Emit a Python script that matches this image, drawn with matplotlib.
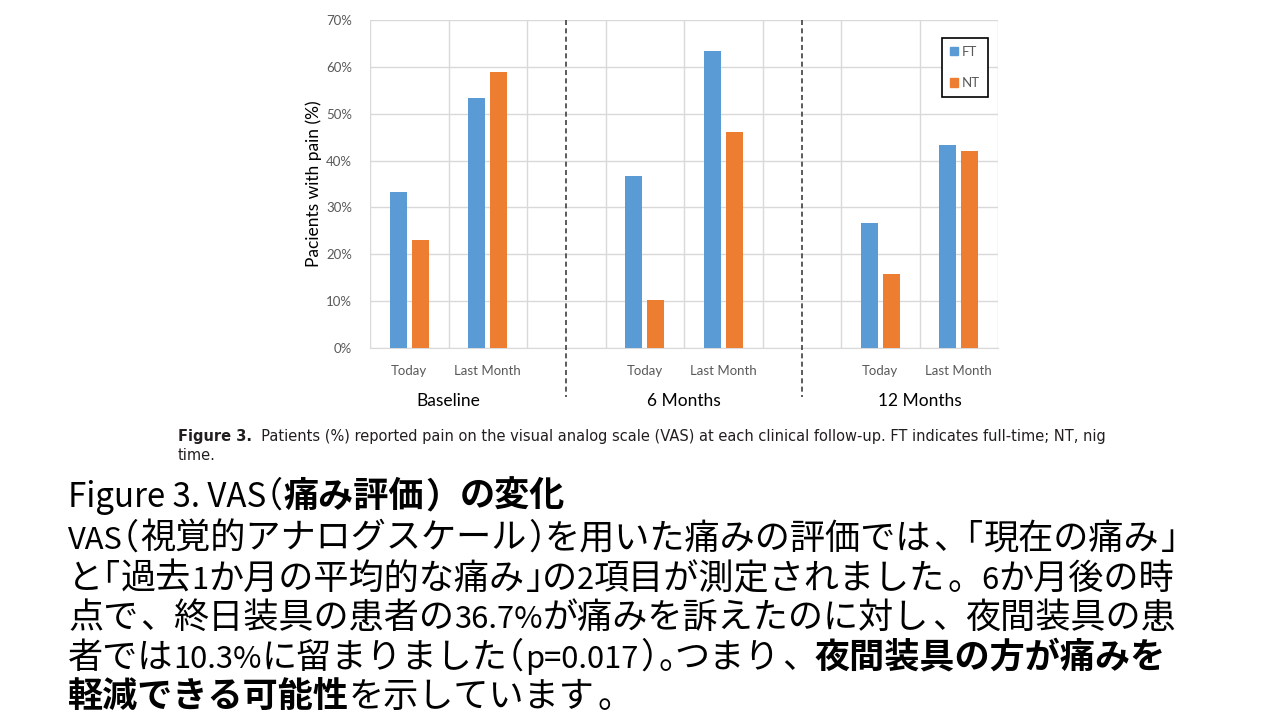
import numpy as np
import matplotlib
matplotlib.use("Agg")
import matplotlib.pyplot as plt
from matplotlib.patches import Patch
from matplotlib.font_manager import FontProperties, findfont, get_font

# data
groups = ['Baseline', '6 Months', '12 Months']
periods = ['Today', 'Last Month']
ft = [33.3, 53.3, 36.7, 63.3, 26.7, 43.3]
nt = [23.1, 59.0, 10.3, 46.2, 15.8, 42.1]
yticks = [0, 10, 20, 30, 40, 50, 60, 70]

caption_bold = 'Figure 3.'
caption_rest = ('  Patients (%) reported pain on the visual analog scale (VAS) at each clinical '
                'follow-up. FT indicates full-time; NT, nig')
caption_line2 = 'time.'

jp_lines = [
    [('Figure 3. VAS（', False), ('痛み評価）の変化', True)],
    [('VAS（視覚的アナログスケール）を用いた痛みの評価では、「現在の痛み」', False)],
    [('と「過去1か月の平均的な痛み」の2項目が測定されました。6か月後の時', False)],
    [('点で、終日装具の患者の36.7%が痛みを訴えたのに対し、夜間装具の患', False)],
    [('者では10.3%に留まりました（p=0.017）。つまり、', False), ('夜間装具の方が痛みを', True)],
    [('軽減できる可能性', True), ('を示しています。', False)],
]

FT_C = '#5B9BD5'
NT_C = '#ED7D31'
GRID = '#D9D9D9'
chart_font = ['Lato', 'DejaVu Sans']
jp_font = ['Noto Sans CJK JP', 'DejaVu Sans']
JP_SIZE = 25.3
DPI = 100

fig = plt.figure(figsize=(12.8, 7.2), dpi=DPI)
ax = fig.add_axes([370 / 1280, 1 - 348 / 720, 628 / 1280, 328 / 720])

# slot positions: 2 categories per group + an empty slot between groups
slots = []
for g in range(len(groups)):
    for p in range(len(periods)):
        slots.append(g * 3 + p + 0.5)
slots = np.array(slots)

bw = 0.217
off = 0.14
ax.bar(slots - off, ft, width=bw, color=FT_C, label='FT', zorder=3)
ax.bar(slots + off, nt, width=bw, color=NT_C, label='NT', zorder=3)

ax.set_xlim(0, 8)
ax.set_ylim(0, 70)
ax.set_yticks(yticks)
ax.set_yticklabels([f'{v}%' for v in yticks], fontsize=9.5, color='#595959', family=chart_font)
ax.set_xticks(slots)
ax.set_xticklabels(periods * len(groups), fontsize=9.5, color='#595959', family=chart_font)
ax.tick_params(length=0, pad=12)
ax.tick_params(axis='y', pad=13)

# category boundary gridlines
for xb in range(0, 9):
    ax.axvline(xb, color=GRID, lw=1, zorder=1)
ax.yaxis.grid(True, color=GRID, lw=1, zorder=1)
ax.set_axisbelow(True)
for s in ['top', 'right', 'left']:
    ax.spines[s].set_visible(False)
ax.spines['bottom'].set_color(GRID)

ax.set_ylabel('Pacients with pain (%)', fontsize=12.5, family=chart_font, labelpad=3)

# group labels and dashed separators
xt = ax.get_xaxis_transform()
for g, name in enumerate(groups):
    ax.text(g * 3 + 1, -0.162, name, transform=xt, ha='center', va='center',
            fontsize=12.5, family=chart_font, color='black')
for xs in [2.5, 5.5]:
    ax.plot([xs, xs], [1.0, -0.15], transform=xt, color='#404040', lw=1.2,
            linestyle=(0, (3, 2)), clip_on=False, zorder=4)

leg = ax.legend(handles=[Patch(color=FT_C, label='FT'), Patch(color=NT_C, label='NT')],
                loc='upper left', bbox_to_anchor=((942 - 370) / 628, 1 - (38 - 20) / 328),
                borderaxespad=0, frameon=True, fancybox=False, edgecolor='black',
                framealpha=1, handlelength=0.6, handleheight=0.6, handletextpad=0.3,
                labelspacing=1.45, borderpad=0.6, prop={'family': chart_font, 'size': 9.5})
leg.get_frame().set_linewidth(1.2)
for t in leg.get_texts():
    t.set_color('#595959')

# caption under the chart
cap_font = ['Liberation Sans Narrow', 'DejaVu Sans']
renderer = fig.canvas.get_renderer()
t = fig.text(178 / 1280, 1 - 437 / 720, caption_bold, fontsize=10.5, weight='bold',
             family=cap_font, va='center', color='#231F20')
w = t.get_window_extent(renderer).width
fig.text((178 + w) / 1280, 1 - 437 / 720, caption_rest, fontsize=10.5,
         family=cap_font, va='center', color='#231F20')
fig.text(178 / 1280, 1 - 455 / 720, caption_line2, fontsize=10.5,
         family=cap_font, va='center', color='#231F20')


# Japanese explanation: laid out glyph run by glyph run so that brackets take
# half an em and Latin text is a bit smaller, like the slide font
OPEN = '（「'
CLOSE = '）」'
PUNCT = '、。'
em = JP_SIZE * DPI / 72


def make_adv(bold):
    f = get_font(findfont(FontProperties(family='Noto Sans CJK JP',
                                         weight='bold' if bold else 'normal')))
    f.set_size(JP_SIZE, DPI)
    ref = f.load_char(ord('視')).linearHoriAdvance
    cache = {}

    def adv(ch):
        if ch not in cache:
            cache[ch] = f.load_char(ord(ch)).linearHoriAdvance / ref * em
        return cache[ch]
    return adv


advs = {False: make_adv(False), True: make_adv(True)}


def kind(ch):
    if ch in OPEN:
        return 'open'
    if ch in CLOSE:
        return 'close'
    if ch in PUNCT:
        return 'punct'
    if ord(ch) < 0x2000:
        return 'latin'
    return 'cjk'


def put(x, y, s, bold, ha, size):
    fig.text(x / 1280, 1 - y / 720, s, fontsize=size, family=jp_font,
             weight='bold' if bold else 'normal', ha=ha, va='baseline', color='black')


def draw_line(x, y, runs, lat=0.88, close_full=False):
    prev = None
    for s, bold in runs:
        i = 0
        while i < len(s):
            k = kind(s[i])
            if k in ('latin', 'cjk'):
                j = i
                while j < len(s) and kind(s[j]) == k:
                    j += 1
                seg = s[i:j]
                scale = lat if k == 'latin' else 1.0
                w = sum(advs[bold](c) for c in seg) * scale
                put(x + w / 2, y, seg, bold, 'center', JP_SIZE * scale)
                x += w
                i = j
            else:
                ch = s[i]
                if k == 'open':
                    put(x + em * 0.46, y, ch, bold, 'right', JP_SIZE)
                    x += em / 2
                elif k == 'close':
                    put(x + em * 0.04, y, ch, bold, 'left', JP_SIZE)
                    x += em if close_full else em / 2
                else:
                    put(x + em * 0.06, y, ch, bold, 'left', JP_SIZE)
                    x += em / 2 if prev == 'close' else em
                i += 1
            prev = k


baselines = [507, 549, 589, 628, 668, 707]
for n, (runs, yy) in enumerate(zip(jp_lines, baselines)):
    if n == 0:
        draw_line(68, yy, runs, lat=0.94, close_full=True)
    else:
        draw_line(68, yy, runs)

fig.savefig('out.png', dpi=DPI)
